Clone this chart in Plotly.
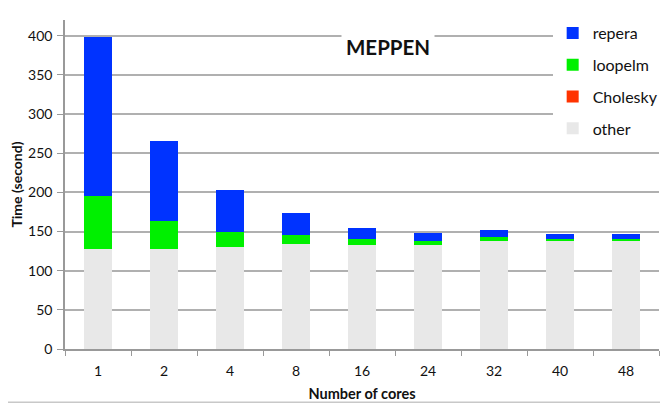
import plotly.graph_objects as go

cores = ["1", "2", "4", "8", "16", "24", "32", "40", "48"]
other = [128, 128, 130, 134, 133, 133, 138, 138, 138]
cholesky = [0, 0, 0, 0, 0, 0, 0, 0, 0]
loopelm = [67, 36, 19, 12, 8, 5, 5, 3, 3]
repera = [203, 102, 54, 27, 13, 10, 9, 6, 6]

FONT = "Lato"

fig = go.Figure()
series = [
    ("other", other, "#E8E8E8", 4),
    ("Cholesky", cholesky, "#FF3300", 3),
    ("loopelm", loopelm, "#00F000", 2),
    ("repera", repera, "#0033FF", 1),
]
for name, vals, col, rank in series:
    fig.add_trace(go.Bar(
        x=cores, y=vals, name=name, legendgroup=name, legendrank=rank,
        marker=dict(color=col, line=dict(width=0)),
    ))

fig.update_layout(
    barmode="stack",
    bargap=0.59,
    width=668, height=405,
    margin=dict(l=57, r=17, t=12, b=63.5, autoexpand=False),
    paper_bgcolor="white",
    plot_bgcolor="white",
    font=dict(family=FONT, size=14, color="#111"),
    showlegend=True,
    legend=dict(
        x=0.821, y=1.012, xanchor="left", yanchor="top",
        traceorder="grouped", tracegroupgap=8,
        bgcolor="white", font=dict(family=FONT, size=16, color="#111"),
        itemwidth=30,
    ),
    xaxis=dict(
        type="category",
        showline=True, linecolor="#999", linewidth=1.5,
        ticks="outside", tickson="boundaries", ticklen=5, tickcolor="#999",
        tickfont=dict(size=14), ticklabelstandoff=8,
        title=dict(text="<b>Number of cores</b>", font=dict(size=14.5), standoff=11),
    ),
    yaxis=dict(
        range=[0, 420],
        tickvals=[0, 50, 100, 150, 200, 250, 300, 350, 400],
        showline=True, linecolor="#999", linewidth=1.5,
        ticks="outside", ticklen=6, tickcolor="#999",
        showgrid=True, gridcolor="#B0B0B0", gridwidth=1.5,
        zeroline=False,
        tickfont=dict(size=14), ticklabelstandoff=2,
        title=dict(text="<b>Time (second)</b>", font=dict(size=14), standoff=4),
    ),
    shapes=[dict(
        type="rect", xref="paper", yref="paper",
        x0=-0.0993, x1=1.0101, y0=-0.162, y1=1.0455,
        line=dict(color="#C8C8C8", width=1.5), fillcolor="rgba(0,0,0,0)",
        layer="above",
    )],
    annotations=[dict(
        text="<b>MEPPEN</b>", xref="paper", yref="paper",
        x=0.544, y=0.918, xanchor="center", yanchor="middle", showarrow=False,
        font=dict(family=FONT, size=20.5, color="#111"),
        bgcolor="white", borderpad=4,
    )],
)

fig.write_html("out.html")
